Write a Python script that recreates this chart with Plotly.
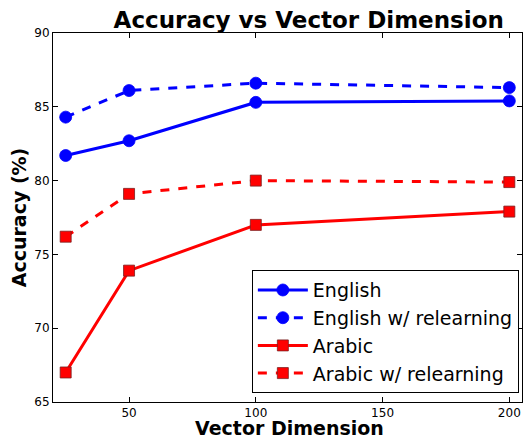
import plotly.graph_objects as go

dims = [25, 50, 100, 200]
english = [81.7, 82.7, 85.3, 85.4]
english_rel = [84.3, 86.1, 86.6, 86.3]
arabic = [67.0, 73.9, 77.0, 77.9]
arabic_rel = [76.2, 79.1, 80.0, 79.9]

FONT = "DejaVu Sans"

fig = go.Figure()
series = [
    ("English", english, "blue", "solid", "circle", "blue"),
    ("English w/ relearning", english_rel, "blue", "dash", "circle", "blue"),
    ("Arabic", arabic, "red", "solid", "square", "#7a2020"),
    ("Arabic w/ relearning", arabic_rel, "red", "dash", "square", "#7a2020"),
]
for name, ys, col, dash, sym, edge in series:
    fig.add_trace(go.Scatter(
        x=dims, y=ys, name=name, mode="lines+markers",
        line=dict(color=col, width=3, dash=dash),
        marker=dict(symbol=sym, size=12 if sym == "circle" else 11, color=col,
                    line=dict(color=edge, width=0.8)),
    ))

axis_common = dict(
    showgrid=False, zeroline=False, showline=True, linecolor="black", linewidth=1,
    mirror="allticks", ticks="inside", ticklen=5, tickcolor="black",
    tickfont=dict(family=FONT, size=12, color="black"), automargin=False,
)
fig.update_xaxes(range=[20, 205], tickvals=[50, 100, 150, 200], **axis_common)
fig.update_yaxes(range=[65, 90], tickvals=[65, 70, 75, 80, 85, 90],
                 title=dict(text="<b>Accuracy (%)</b>", font=dict(family=FONT, size=19, color="black"), standoff=7),
                 **axis_common)

fig.add_annotation(text="<b>Vector Dimension</b>", xref="paper", yref="paper",
                   x=0.505, y=0, xanchor="center", yanchor="middle", yshift=-26,
                   showarrow=False, font=dict(family=FONT, size=19, color="black"))

# page body has an 8px margin, so the figure is sized and offset to compensate
fig.update_layout(
    width=523, height=431,
    margin=dict(l=45, r=9, t=25, b=37),
    paper_bgcolor="white", plot_bgcolor="white",
    title=dict(text="<b>Accuracy vs Vector Dimension</b>", x=0.575, xanchor="center",
               y=0.972, yanchor="middle",
               font=dict(family=FONT, size=23, color="black")),
    legend=dict(x=0.424, xanchor="left", y=0.024, yanchor="bottom",
                bordercolor="black", borderwidth=1, bgcolor="white",
                font=dict(family=FONT, size=19, color="black"),
                itemwidth=50, tracegroupgap=0),
    showlegend=True,
)

fig.write_html("out.html")
